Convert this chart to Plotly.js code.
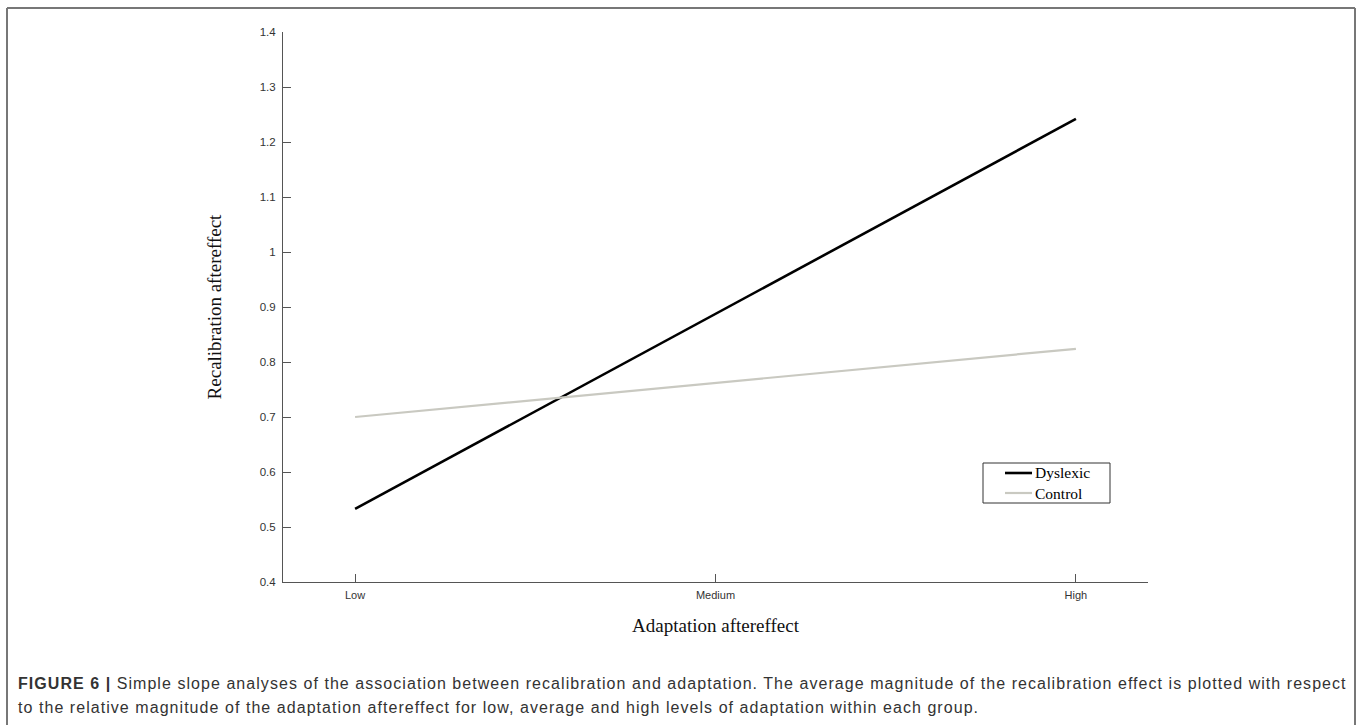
<!DOCTYPE html>
<html>
<head>
<meta charset="utf-8">
<script src="https://cdn.plot.ly/plotly-3.0.1.min.js"></script>
<style>
html,body{margin:0;padding:0;background:#fff;}
#chart{width:1357px;height:725px;}
</style>
</head>
<body>
<div id="chart"></div>
<script>
const categories = ["Low", "Medium", "High"];
const dyslexic = [0.533, 0.888, 1.242];
const control = [0.700, 0.762, 0.824];
const yTicks = [0.4, 0.5, 0.6, 0.7, 0.8, 0.9, 1, 1.1, 1.2, 1.3, 1.4];
const yTickLabels = ["0.4", "0.5", "0.6", "0.7", "0.8", "0.9", "1", "1.1", "1.2", "1.3", "1.4"];
const seriesNames = ["Dyslexic", "Control"];
const seriesColors = ["#000000", "#c9c9c1"];
const seriesWidths = [2.6, 2.2];
const captionLine1 = "<b>FIGURE 6 |</b> Simple slope analyses of the association between recalibration and adaptation. The average magnitude of the recalibration effect is plotted with respect";
const captionLine2 = "to the relative magnitude of the adaptation aftereffect for low, average and high levels of adaptation within each group.";

const W = 1357, H = 725;
const L = 283, R = 1148, T = 32, B = 582;
const px = x => (x - L) / (R - L);
const py = y => (B - y) / (B - T);

const traces = [
  {x: categories, y: dyslexic, name: seriesNames[0], type: "scatter", mode: "lines",
   line: {color: seriesColors[0], width: seriesWidths[0]}},
  {x: categories, y: control, name: seriesNames[1], type: "scatter", mode: "lines",
   line: {color: seriesColors[1], width: seriesWidths[1]}}
];

// manual legend (box, sample lines, labels)
const legBox = {x0: 983, x1: 1110, y0: 463, y1: 503};
const legRows = [473, 493];
const shapes = [
  {type: "line", xref: "paper", yref: "paper", x0: px(7), x1: px(7), y0: py(8), y1: py(740),
   line: {color: "#777777", width: 2}},
  {type: "line", xref: "paper", yref: "paper", x0: px(7), x1: px(1355), y0: py(8), y1: py(8),
   line: {color: "#777777", width: 2}},
  {type: "line", xref: "paper", yref: "paper", x0: px(1355), x1: px(1355), y0: py(8), y1: py(740),
   line: {color: "#777777", width: 2}},
  {type: "rect", xref: "paper", yref: "paper", x0: px(legBox.x0), x1: px(legBox.x1),
   y0: py(legBox.y0), y1: py(legBox.y1), fillcolor: "#ffffff", line: {color: "#333333", width: 1}}
];
const annotations = [
  {xref: "paper", yref: "paper", x: px(16), y: py(683), xanchor: "left", yanchor: "middle",
   text: captionLine1, showarrow: false, align: "left",
   font: {family: "Liberation Sans", size: 16, color: "#333"}},
  {xref: "paper", yref: "paper", x: px(16), y: py(707), xanchor: "left", yanchor: "middle",
   text: captionLine2, showarrow: false, align: "left",
   font: {family: "Liberation Sans", size: 16, color: "#333"}}
];
seriesNames.forEach((n, i) => {
  shapes.push({type: "line", xref: "paper", yref: "paper", x0: px(1005), x1: px(1032),
    y0: py(legRows[i]), y1: py(legRows[i]), line: {color: seriesColors[i], width: seriesWidths[i]}});
  annotations.push({xref: "paper", yref: "paper", x: px(1033), y: py(legRows[i]),
    xanchor: "left", yanchor: "middle", text: n, showarrow: false,
    font: {family: "Liberation Serif", size: 15.5, color: "#000"}});
});

const layout = {
  width: W, height: H,
  margin: {l: L, r: W - R, t: T, b: H - B, pad: 0},
  paper_bgcolor: "#ffffff", plot_bgcolor: "#ffffff",
  showlegend: false,
  xaxis: {
    type: "category", range: [-0.2, 2.2],
    showgrid: false, zeroline: false,
    showline: true, linecolor: "#555555", linewidth: 1,
    ticks: "inside", ticklen: 8, tickcolor: "#555555", tickwidth: 1,
    ticklabelstandoff: 3,
    tickfont: {family: "Liberation Sans", size: 11, color: "#333"},
    title: {text: "Adaptation aftereffect", standoff: 18,
            font: {family: "Liberation Serif", size: 19, color: "#111"}},
    fixedrange: true
  },
  yaxis: {
    range: [0.4, 1.4],
    tickvals: yTicks, ticktext: yTickLabels,
    showgrid: false, zeroline: false,
    showline: true, linecolor: "#555555", linewidth: 1,
    ticks: "inside", ticklen: 8, tickcolor: "#555555", tickwidth: 1,
    ticklabelstandoff: 4,
    tickfont: {family: "Liberation Sans", size: 11.5, color: "#333"},
    title: {text: "Recalibration aftereffect", standoff: 33,
            font: {family: "Liberation Serif", size: 19, color: "#111"}},
    fixedrange: true
  },
  shapes: shapes,
  annotations: annotations
};

Plotly.newPlot("chart", traces, layout, {staticPlot: true, displayModeBar: false}).then(() => {
  document.querySelectorAll(".annotation-text").forEach((t, i) => {
    if (i < 2) t.style.letterSpacing = "1.05px";
  });
});
</script>
</body>
</html>
